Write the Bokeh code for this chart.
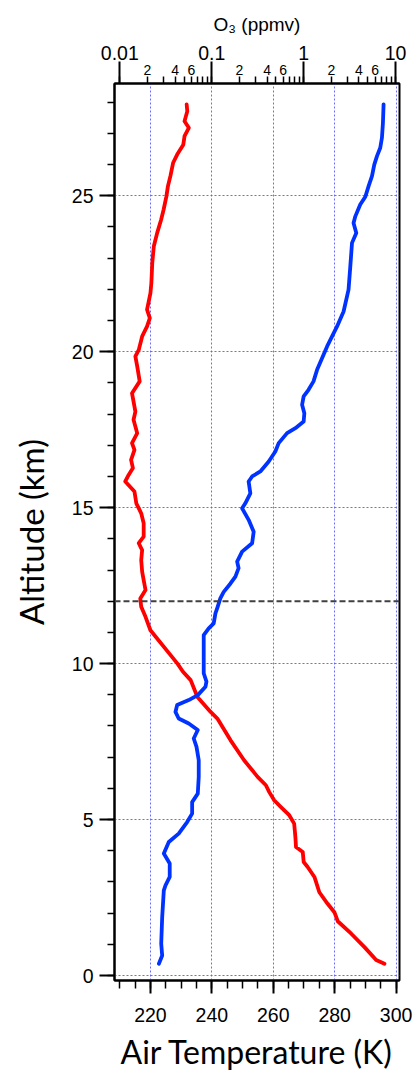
from bokeh.plotting import figure
from bokeh.models import (Range1d, LogAxis, FixedTicker, Span, LogScale)
from bokeh.embed import file_html
from bokeh.resources import INLINE

# ---------------- data ----------------
temp_alt_km = [0.38, 0.50, 0.91, 1.34, 1.74, 2.03, 2.30, 2.67, 3.16, 3.48,
               3.64, 3.96, 4.12, 4.44, 4.87, 5.14, 5.40, 5.62, 5.88, 6.10,
               6.37, 6.90, 7.54, 8.24, 8.45, 8.93, 9.47, 9.74, 10.0, 10.33,
               11.07, 11.5, 11.82, 12.09, 12.36, 12.68, 12.95, 13.32, 13.64, 13.86,
               14.07, 14.5, 14.82, 15.14, 15.52, 15.84, 16.05, 16.27, 16.53, 16.85,
               17.07, 17.39, 17.82, 18.08, 18.67, 19.05, 19.53, 19.85, 20.06, 20.49,
               20.81, 21.08, 21.35, 21.88, 22.2, 22.85, 23.38, 23.81, 24.24, 24.56,
               24.98, 25.31, 25.63, 26.06, 26.32, 26.64, 26.91, 27.18, 27.39, 27.71,
               27.93]
temp_k = [296.2, 293.5, 289.7, 285.4, 281.0, 279.9, 277.7, 275.0, 273.4, 271.2,
          269.9, 269.6, 267.4, 267.2, 266.8, 265.2, 262.5, 260.3, 258.7, 257.6,
          254.9, 250.5, 246.1, 241.8, 239.6, 235.3, 233.1, 230.6, 228.8, 226.1,
          220.0, 218.4, 217.0, 216.7, 218.4, 217.8, 217.3, 217.0, 217.3, 216.2,
          217.8, 217.8, 217.0, 215.4, 214.8, 211.8, 212.9, 214.3, 213.7, 214.8,
          214.0, 215.7, 214.5, 215.1, 214.0, 216.5, 215.7, 215.1, 216.2, 217.3,
          218.9, 219.8, 218.9, 220.0, 220.3, 220.6, 221.1, 222.2, 223.5, 224.3,
          225.2, 225.7, 226.5, 227.4, 228.7, 230.7, 231.1, 232.5, 231.1, 232.0,
          231.8]

o3_alt_km = [0.38, 0.64, 1.02, 1.87, 2.73, 2.89, 3.16, 3.59, 3.91, 4.28,
             4.55, 4.92, 5.19, 5.56, 5.83, 6.37, 6.90, 7.33, 7.60, 7.87,
             8.08, 8.24, 8.45, 8.67, 8.83, 8.99, 9.26, 9.42, 9.69, 10.43,
             10.91, 11.13, 11.29, 11.61, 11.82, 12.09, 12.30, 12.57, 12.79, 13.06,
             13.27, 13.59, 13.86, 14.23, 14.61, 14.98, 15.14, 15.46, 15.84, 16.0,
             16.16, 16.48, 16.8, 17.07, 17.39, 17.55, 17.76, 18.03, 18.3, 18.57,
             18.78, 19.05, 19.42, 20.17, 20.81, 21.29, 21.99, 22.74, 23.49, 23.81,
             24.13, 24.34, 24.72, 24.97, 25.31, 25.63, 26.0, 26.27, 26.54, 26.86,
             27.34, 27.93]
o3_ppmv = [0.0266, 0.0289, 0.0282, 0.0289, 0.0301, 0.0314, 0.0349, 0.0349, 0.0301, 0.0341,
           0.0437, 0.054, 0.0612, 0.0612, 0.0705, 0.0722, 0.0722, 0.0683, 0.0637, 0.0705,
           0.0562, 0.0437, 0.0403, 0.042, 0.0562, 0.0705, 0.0855, 0.0876, 0.0818, 0.0818,
           0.0818, 0.0927, 0.105, 0.1097, 0.116, 0.124, 0.135, 0.160, 0.181, 0.196,
           0.189, 0.214, 0.275, 0.286, 0.252, 0.214, 0.232, 0.263, 0.252, 0.275,
           0.338, 0.417, 0.492, 0.535, 0.660, 0.813, 1.0, 1.018, 0.962, 1.0,
           1.13, 1.28, 1.40, 1.80, 2.31, 2.72, 3.08, 3.22, 3.36, 3.74,
           3.49, 3.65, 4.13, 4.69, 5.09, 5.54, 5.87, 6.28, 6.82, 7.11,
           7.29, 7.41]

temp_ticks = [220, 240, 260, 280, 300]
temp_minor_ticks = list(range(210, 301, 5))
alt_ticks = [0, 5, 10, 15, 20, 25]
alt_minor_ticks = list(range(0, 29))
o3_ticks = [0.01, 0.1, 1, 10]
o3_tick_labels = ["0.01", "0.1", "1", "10"]
o3_decades = [0.01, 0.1, 1]
o3_labeled_mult = [2, 4, 6]
o3_unlabeled_mult = [3, 5, 7, 8, 9]
tropopause_km = 12.0

x_label = "Air Temperature (K)"
y_label = "Altitude (km)"
top_label = "O\u2083 (ppmv)"

# ---------------- figure ----------------
y_lo, y_hi = -0.16, 28.6
p = figure(width=414, height=1073,
           x_range=Range1d(208.3, 301.1), y_range=Range1d(y_lo, y_hi),
           output_backend="svg", toolbar_location=None,
           min_border_left=114, min_border_right=15,
           min_border_top=83, min_border_bottom=93)
p.background_fill_color = "white"
p.border_fill_color = "white"
p.outline_line_color = "black"
p.outline_line_width = 2

p.extra_x_ranges = {"o3": Range1d(10 ** -2.058, 10 ** 1.043)}
p.extra_x_scales = {"o3": LogScale()}

tick_font = "Liberation Sans"
title_font = "Lato"
tick_size = "19.5px"

xa = p.below[0]
xa.ticker = FixedTicker(ticks=temp_ticks, minor_ticks=temp_minor_ticks)
xa.axis_label = x_label
xa.axis_label_text_font = title_font
xa.axis_label_text_font_style = "normal"
xa.axis_label_text_font_size = "32px"
xa.axis_label_standoff = 7
xa.major_label_text_font = tick_font
xa.major_label_text_font_size = tick_size
xa.major_label_standoff = 14
xa.major_tick_out = 13
xa.major_tick_in = 0
xa.minor_tick_out = 8
xa.minor_tick_in = 0

ya = p.left[0]
ya.ticker = FixedTicker(ticks=alt_ticks, minor_ticks=alt_minor_ticks)
ya.axis_label = y_label
ya.axis_label_text_font = title_font
ya.axis_label_text_font_style = "normal"
ya.axis_label_text_font_size = "33px"
ya.axis_label_standoff = 18
ya.major_label_text_font = tick_font
ya.major_label_text_font_size = tick_size
ya.major_label_standoff = 6
ya.major_tick_out = 15
ya.major_tick_in = 0
ya.minor_tick_out = 7
ya.minor_tick_in = 0

# inner top axis: minor ticks of the log scale, with "2 4 6" labels
lab_pos = [round(m * d, 6) for d in o3_decades for m in o3_labeled_mult]
lab_txt = [str(m) for d in o3_decades for m in o3_labeled_mult]
unl_pos = [round(m * d, 6) for d in o3_decades for m in o3_unlabeled_mult]
ta_in = LogAxis(x_range_name="o3",
                ticker=FixedTicker(ticks=lab_pos, minor_ticks=unl_pos + o3_ticks),
                major_label_overrides={v: s for v, s in zip(lab_pos, lab_txt)})
ta_in.major_label_text_font = tick_font
ta_in.major_label_text_font_size = "14px"
ta_in.major_label_standoff = 2
ta_in.major_tick_out = 7
ta_in.major_tick_in = 0
ta_in.minor_tick_out = 7
ta_in.minor_tick_in = 0
ta_in.axis_line_width = 2
ta_in.axis_line_color = "black"
ta_in.major_tick_line_width = 1.5
ta_in.minor_tick_line_width = 1.5
ta_in.major_tick_line_color = "black"
ta_in.minor_tick_line_color = "black"
ta_in.major_label_text_color = "black"
p.add_layout(ta_in, "above")

# outer top axis: decade labels, long ticks reaching down to the frame
ta = LogAxis(x_range_name="o3",
             ticker=FixedTicker(ticks=o3_ticks, minor_ticks=[]),
             major_label_overrides={v: s for v, s in zip(o3_ticks, o3_tick_labels)})
ta.axis_label = top_label
ta.axis_label_text_font = tick_font
ta.axis_label_text_font_style = "normal"
ta.axis_label_text_font_size = "19px"
ta.axis_label_standoff = 8
ta.major_label_text_font = tick_font
ta.major_label_text_font_size = tick_size
ta.major_label_standoff = 2
ta.major_tick_out = 0
ta.major_tick_in = 22
ta.minor_tick_out = 0
ta.minor_tick_in = 0
ta.axis_line_color = None
ta.major_tick_line_width = 2
ta.major_tick_line_color = "black"
ta.major_label_text_color = "black"
ta.axis_label_text_color = "black"
p.add_layout(ta, "above")

for ax in (xa, ya):
    ax.axis_line_width = 2
    ax.axis_line_color = "black"
    ax.major_tick_line_width = 2
    ax.minor_tick_line_width = 1.5
    ax.major_tick_line_color = "black"
    ax.minor_tick_line_color = "black"
    ax.major_label_text_color = "black"
    ax.axis_label_text_color = "black"

# grids
p.xgrid.ticker = FixedTicker(ticks=temp_ticks)
p.ygrid.ticker = FixedTicker(ticks=alt_ticks)
for g in (p.xgrid[0], p.ygrid[0]):
    g.grid_line_color = "#5c5cff"
    g.grid_line_alpha = 0.9
    g.grid_line_width = 1
    g.grid_line_dash = "2 2"

# tropopause
p.add_layout(Span(location=tropopause_km, dimension="width",
                  line_color="#404040", line_dash="6 3", line_width=1.8))

# profiles
p.line(temp_k, temp_alt_km, line_color="#ff0000", line_width=3.8, line_join="round", line_cap="round")
p.line(o3_ppmv, o3_alt_km, x_range_name="o3", line_color="#0033ff", line_width=3.8,
       line_join="round", line_cap="round")

open("out.html", "w").write(file_html(p, INLINE))
